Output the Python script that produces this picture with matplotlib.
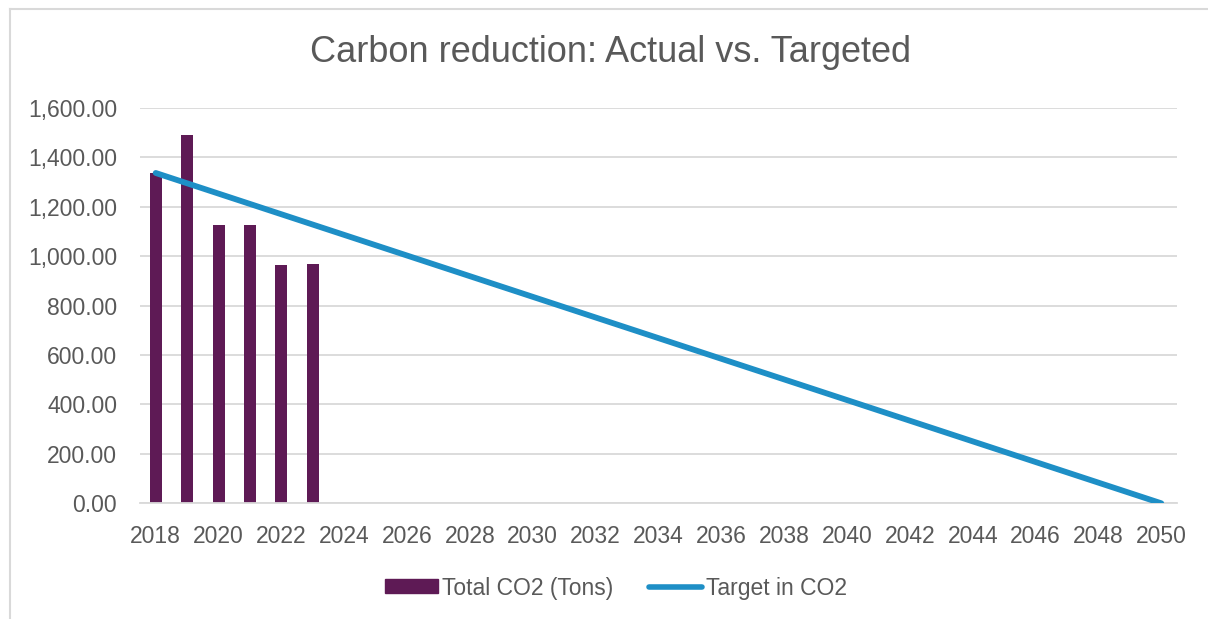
import numpy as np
import matplotlib
matplotlib.use('Agg')
import matplotlib.pyplot as plt
from matplotlib.lines import Line2D
from matplotlib.ticker import FuncFormatter, MultipleLocator

# ── data ─────────────────────────────────────────────────────────────────────
actual_years  = [2018, 2019, 2020, 2021, 2022, 2023]
actual_tons   = [1337, 1489, 1128, 1128, 964, 968]
target_years  = [2018, 2050]
target_tons   = [1337, 0]
x_ticks       = list(range(2018, 2051, 2))

BAR_COLOR  = '#5E1A55'
LINE_COLOR = '#1E8FC6'
TEXT_COLOR = '#595959'
GRID_COLOR = '#D9D9D9'

plt.rcParams['font.family'] = ['Liberation Sans', 'DejaVu Sans']

W, H = 1208, 619
fig = plt.figure(figsize=(W / 100, H / 100), dpi=100)
ax = fig.add_axes([140 / W, 1 - 503.3 / H, (1177 - 140) / W, (503.3 - 108) / H])

# ── bars + target line ───────────────────────────────────────────────────────
ax.bar(actual_years, actual_tons, width=0.38, color=BAR_COLOR, zorder=2,
       label='Total CO2 (Tons)')
ax.plot(target_years, target_tons, color=LINE_COLOR, lw=4.2,
        solid_capstyle='round', zorder=3, label='Target in CO2')

ax.set_xlim(2017.5, 2050.5)
ax.set_ylim(0, 1600)
ax.yaxis.set_major_locator(MultipleLocator(200))
ax.yaxis.set_major_formatter(FuncFormatter(lambda v, p: f'{v:,.2f}'))
ax.set_xticks(x_ticks)
ax.set_xticklabels([str(y) for y in x_ticks])

ax.grid(axis='y', color=GRID_COLOR, lw=1.3, zorder=0)
for s in ['top', 'right', 'left']:
    ax.spines[s].set_visible(False)
ax.spines['bottom'].set_color(GRID_COLOR)
ax.spines['bottom'].set_linewidth(1.3)
ax.tick_params(axis='both', length=0, labelsize=16.5, labelcolor=TEXT_COLOR)
ax.tick_params(axis='x', pad=15.5)
ax.tick_params(axis='y', pad=16.5)

fig.text(611 / W, 1 - 52 / H, 'Carbon reduction: Actual vs. Targeted',
         ha='center', va='center', fontsize=26, color=TEXT_COLOR)

# ── legend ───────────────────────────────────────────────────────────────────
handles = [plt.Rectangle((0, 0), 1, 1, color=BAR_COLOR),
           Line2D([0], [0], color=LINE_COLOR, lw=4, solid_capstyle='round')]
fig.legend(handles, ['Total CO2 (Tons)', 'Target in CO2'],
           loc='center', bbox_to_anchor=(616 / W, 1 - 588 / H), ncol=2,
           frameon=False, fontsize=16.5, labelcolor=TEXT_COLOR,
           handlelength=2.3, handleheight=0.57, handletextpad=0.15,
           columnspacing=1.6)

# ── outer chart border (partly cropped) ─────────────────────────────────────
fig.add_artist(Line2D([10 / W, 10 / W], [0, 1 - 9 / H], color=GRID_COLOR,
                      lw=1.5, transform=fig.transFigure))
fig.add_artist(Line2D([10 / W, 1], [1 - 9 / H, 1 - 9 / H], color=GRID_COLOR,
                      lw=1.5, transform=fig.transFigure))

fig.savefig('out.png', dpi=100)
